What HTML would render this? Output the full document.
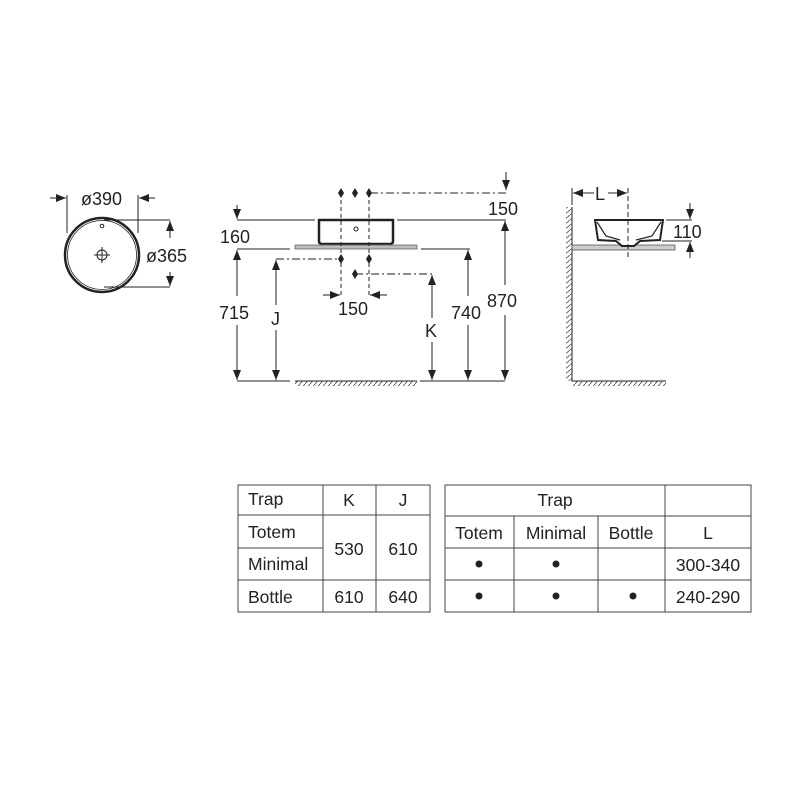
<!DOCTYPE html>
<html><head><meta charset="utf-8"><style>
html,body{margin:0;padding:0;background:#fff}
svg{display:block}
text{font-family:"Liberation Sans",sans-serif;fill:#222}
</style></head><body>
<svg width="800" height="800" viewBox="0 0 800 800" xmlns="http://www.w3.org/2000/svg">
<defs>
<marker id="a" markerWidth="10" markerHeight="8" refX="10" refY="4" orient="auto" markerUnits="userSpaceOnUse"><path d="M0,0 L10,4 L0,8 Z" fill="#222"/></marker>
<pattern id="h" width="5" height="6" patternUnits="userSpaceOnUse"><path d="M0,6 L5,0" stroke="#444" stroke-width="0.8"/></pattern>
<pattern id="hv" width="6" height="5" patternUnits="userSpaceOnUse"><path d="M0,5 L6,0" stroke="#444" stroke-width="0.8"/></pattern>
</defs>
<g stroke="#222" stroke-width="1" fill="none">
<circle cx="102" cy="255" r="37" stroke-width="2.5"/>
<circle cx="102" cy="255" r="34.5" stroke-width="0.8"/>
<circle cx="102" cy="226" r="1.8"/>
<circle cx="102" cy="255" r="5"/>
<path d="M94,255 H110 M102,247 V263"/>
<path d="M67,195 V233 M138,195 V233"/>
<path d="M50,198 H66" marker-end="url(#a)"/>
<path d="M155,198 H139" marker-end="url(#a)"/>
<path d="M104,220 H170 M104,287 H170"/>
<path d="M170,238 V221" marker-end="url(#a)"/>
<path d="M170,272 V286" marker-end="url(#a)"/>
<path d="M319,220 V241 Q319,244 322,244 H390 Q393,244 393,241 V220 Z" stroke-width="2.5" fill="#fff"/>
<circle cx="356" cy="229" r="2"/>
<rect x="295" y="245" width="122" height="4" fill="#bbb" stroke="#666" stroke-width="0.8"/>
<path d="M237,220 H315 M397,220 H506"/>
<path d="M237,205 V219" marker-end="url(#a)"/>
<path d="M237,249 H290 M421,249 H470"/>
<path d="M370,193 H506" stroke-dasharray="8,3,2,3"/>
<path d="M506,172 V190" marker-end="url(#a)"/>
<path d="M341,193 V296 M369,193 V296" stroke-dasharray="4,3"/>
<path d="M276,259 H341" stroke-dasharray="8,3,2,3"/>
<path d="M355,274 H432" stroke-dasharray="8,3,2,3"/>
<path d="M323,295 H340" marker-end="url(#a)"/>
<path d="M387,295 H370" marker-end="url(#a)"/>
<path d="M237,296 V250" marker-end="url(#a)"/><path d="M237,325 V380" marker-end="url(#a)"/>
<path d="M276,305 V260" marker-end="url(#a)"/><path d="M276,330 V380" marker-end="url(#a)"/>
<path d="M432,318 V275" marker-end="url(#a)"/><path d="M432,340 V380" marker-end="url(#a)"/>
<path d="M468,296 V250" marker-end="url(#a)"/><path d="M468,325 V380" marker-end="url(#a)"/>
<path d="M505,285 V221" marker-end="url(#a)"/><path d="M505,315 V380" marker-end="url(#a)"/>
<path d="M237,381 H290 M420,381 H505"/>
<rect x="295" y="381" width="122" height="5" fill="url(#h)" stroke="none"/>
<path d="M295,381 H417"/>
<path d="M572,207 V381 H666"/>
<rect x="566" y="207" width="6" height="174" fill="url(#hv)" stroke="none"/>
<rect x="572" y="381" width="94" height="5" fill="url(#h)" stroke="none"/>
<path d="M572,188 V205"/>
<path d="M594,193 H573" marker-end="url(#a)"/>
<path d="M608,193 H627" marker-end="url(#a)"/>
<rect x="572" y="245" width="103" height="5" fill="#ccc" stroke="#555" stroke-width="0.8"/>
<path d="M595,220 H663 L660,240 L640,241 L634,246 H622 L616,241 L598,240 Z" stroke-width="2" fill="#fff"/>
<path d="M597,222 L606,236 L620,240 M661,222 L652,236 L636,240" stroke-width="1.2"/>
<path d="M628,188 V258" stroke-dasharray="5,3"/>
<path d="M666,220 H692 M662,241 H692"/>
<path d="M690,203 V219" marker-end="url(#a)"/>
<path d="M690,258 V242" marker-end="url(#a)"/>
</g>
<g fill="#222" stroke="none">
<path d="M341,188 l3,5 l-3,5 l-3,-5z M355,188 l3,5 l-3,5 l-3,-5z M369,188 l3,5 l-3,5 l-3,-5z M341,254 l3,5 l-3,5 l-3,-5z M369,254 l3,5 l-3,5 l-3,-5z M355,269 l3,5 l-3,5 l-3,-5z"/>
</g>
<g font-size="18">
<text x="81" y="205">ø390</text>
<text x="146" y="262">ø365</text>
<text x="220" y="243">160</text>
<text x="488" y="215">150</text>
<text x="338" y="315">150</text>
<rect x="218" y="302" width="38" height="22" fill="#fff"/>
<text x="219" y="319">715</text>
<rect x="268" y="308" width="16" height="22" fill="#fff"/>
<text x="271" y="325">J</text>
<rect x="423" y="320" width="18" height="22" fill="#fff"/>
<text x="425" y="337">K</text>
<rect x="450" y="302" width="38" height="22" fill="#fff"/>
<text x="451" y="319">740</text>
<rect x="486" y="290" width="38" height="22" fill="#fff"/>
<text x="487" y="307">870</text>
<text x="595" y="200">L</text>
<text x="673" y="238">110</text>
</g>
<g stroke="#444" stroke-width="1" fill="none">
<rect x="238" y="485" width="192" height="127"/>
<path d="M238,515 H430 M238,548 H323 M238,580 H430 M323,485 V612 M376,485 V612"/>
<rect x="445" y="485" width="306" height="127"/>
<path d="M445,516 H751 M445,548 H751 M445,580 H751 M514,516 V612 M598,516 V612 M665,485 V612"/>
</g>
<g font-size="17.5">
<text x="248" y="505">Trap</text>
<text x="349" y="506" text-anchor="middle">K</text>
<text x="403" y="506" text-anchor="middle">J</text>
<text x="248" y="538">Totem</text>
<text x="248" y="570">Minimal</text>
<text x="248" y="603">Bottle</text>
<text x="349" y="555" text-anchor="middle">530</text>
<text x="403" y="555" text-anchor="middle">610</text>
<text x="349" y="603" text-anchor="middle">610</text>
<text x="403" y="603" text-anchor="middle">640</text>
<text x="555" y="506" text-anchor="middle">Trap</text>
<text x="479" y="539" text-anchor="middle">Totem</text>
<text x="556" y="539" text-anchor="middle">Minimal</text>
<text x="631" y="539" text-anchor="middle">Bottle</text>
<text x="708" y="539" text-anchor="middle">L</text>
<text x="708" y="571" text-anchor="middle">300-340</text>
<text x="708" y="603" text-anchor="middle">240-290</text>
</g>
<g fill="#222">
<circle cx="479" cy="564" r="3.5"/><circle cx="556" cy="564" r="3.5"/>
<circle cx="479" cy="596" r="3.5"/><circle cx="556" cy="596" r="3.5"/><circle cx="633" cy="596" r="3.5"/>
</g>
</svg>
</body></html>
